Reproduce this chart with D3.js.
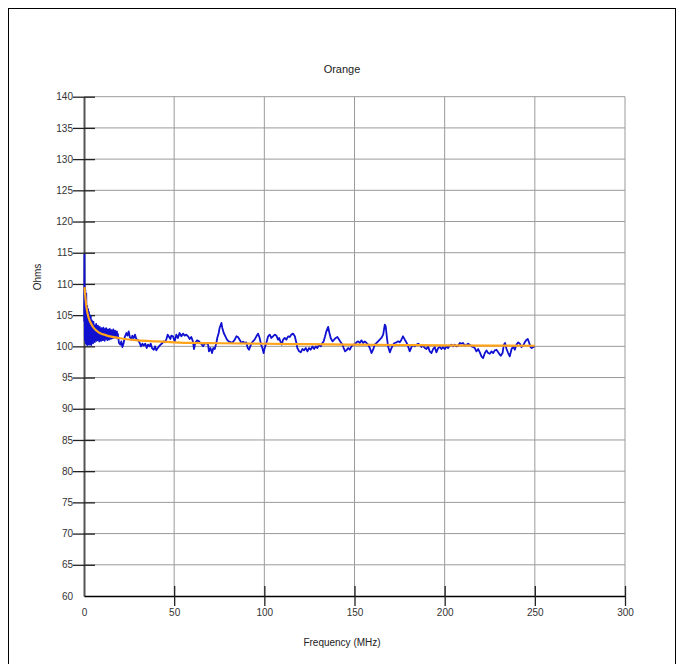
<!DOCTYPE html>
<html><head><meta charset="utf-8">
<script src="https://cdn.jsdelivr.net/npm/d3@7"></script>
<style>body{margin:0;background:#fff}svg{display:block}text{font-family:"Liberation Sans",Arial,sans-serif}</style>
</head><body><div id="chart"></div>
<script>
const title = "Orange";
const xLabel = "Frequency (MHz)";
const yLabel = "Ohms";
const xTicks = [0, 50, 100, 150, 200, 250, 300];
const yTicks = [60, 65, 70, 75, 80, 85, 90, 95, 100, 105, 110, 115, 120, 125, 130, 135, 140];

const measFreq = [0.1,0.25,0.5,0.75,1,1.25,1.5,1.75,2,2.25,2.5,2.75,3,3.25,3.5,3.75,4,4.25,4.5,4.75,
5,5.25,5.5,5.75,6,6.25,6.5,6.75,7,7.25,7.5,7.75,8,8.25,8.5,8.75,9,9.25,9.5,9.75,10,10.25,10.5,10.75,11,11.25,11.5,11.75,12,12.25,12.5,12.75,13,13.25,13.5,13.75,14,14.25,14.5,14.75,15,15.25,15.5,15.75,16,16.25,16.5,16.75,17,17.25,17.5,17.75,18,18.25,18.5,18.75,19,
19.4,20.2,20.7,21.3,22.0,22.6,23.5,24.1,24.8,25.4,26.3,26.8,27.6,28.3,29.0,30.0,30.9,31.6,32.4,33.1,34.0,34.8,35.5,36.4,37.0,37.7,38.7,39.4,40.1,40.9,41.6,42.5,43.5,44.2,45.0,45.7,46.4,47.2,47.9,
48.4,49.3,50.3,51.2,52.1,53.0,54.0,54.9,55.8,56.7,57.7,58.6,59.5,60.4,61.0,61.7,62.7,63.8,64.5,65.4,66.0,66.9,67.8,68.8,69.3,70.1,71.0,71.7,72.5,73.4,73.9,74.7,75.2,76.2,76.7,77.5,78.4,79.3,80.2,81.2,81.9,82.6,83.6,84.5,85.4,86.3,87.3,88.2,89.1,90.0,90.8,91.5,92.2,93.0,93.7,94.6,95.6,96.5,97.4,98.2,98.9,99.6,
100.2,101.1,102.1,103.0,103.9,104.8,105.8,106.7,107.6,108.2,108.9,109.6,110.4,111.3,112.2,113.2,114.1,115.0,115.9,116.9,117.8,118.3,119.3,120.2,121.1,122.0,123.0,123.9,124.8,125.7,126.7,127.6,128.5,129.4,130.4,131.3,132.2,132.9,133.7,134.4,135.4,136.1,136.8,137.8,138.7,139.6,140.5,141.5,142.4,143.3,144.0,144.8,145.5,146.5,147.4,148.3,149.2,
150.1,151.1,152.0,152.9,153.8,154.8,155.7,156.6,157.5,158.5,159.4,160.3,161.2,162.2,163.1,164.0,164.9,165.9,166.8,167.3,167.9,168.6,169.6,170.5,171.4,172.3,173.3,174.2,175.1,176.0,176.9,177.9,178.8,179.7,180.6,181.6,182.5,183.4,184.3,185.3,186.2,187.1,188.0,189.0,189.9,190.8,191.7,192.7,193.6,194.5,195.4,196.4,197.3,198.2,199.1,
200.1,201.0,201.9,202.8,203.8,204.7,205.6,206.5,207.5,208.4,209.3,210.2,211.2,212.1,213.0,213.9,214.9,215.8,216.7,217.6,218.6,219.5,220.4,221.3,222.3,223.2,224.1,225.0,226.0,226.9,227.8,228.7,229.7,230.6,231.1,232.1,232.8,233.5,234.3,235.2,236.1,237.1,238.0,238.9,239.8,240.8,241.7,242.6,243.5,244.4,245.4,246.1,246.9,247.6,248.3,249.1,250.0];

const measOhms = [104,114.7,101,109,100.5,108.5,100.3,106.5,100.2,106,100.5,105.5,100.3,105,100.6,104.8,100.2,104.2,100.8,104,
100.5,103.9,101.2,103.4,100.7,102.8,101.5,103.6,100.9,102.6,101.0,103.3,101.4,102.4,100.8,103.1,101.3,102.2,100.9,102.9,101.6,102.4,101.0,103.0,101.3,102.2,100.9,102.8,101.6,102.9,101.2,102.4,101.0,102.7,101.5,102.3,101.1,102.8,101.6,102.5,101.2,102.6,101.7,102.2,101.3,102.7,101.5,102.3,101.4,102.5,101.8,102.1,101.3,102.4,101.6,102.0,101.4,
100.54,100.27,100.8,99.89,100.54,101.5,102.14,101.71,102.41,101.5,101.07,101.71,101.34,101.87,101.18,100.96,100.54,100,100.43,100.11,100.43,99.73,100.27,100,100.43,99.73,99.46,100,99.36,99.73,100,100.27,100.54,100.8,100.64,101.18,101.87,101.5,101.18,
101.71,101.61,100.8,101.88,101.34,102.14,101.61,102.04,101.71,101.88,101.61,101.18,101.5,100.8,99.57,100.54,100.96,100.8,100.54,100.27,100,100.43,100.54,100.27,99.2,99.73,98.93,99.73,99.57,100.54,101.34,102.14,102.95,103.75,102.95,102.14,101.61,101.07,100.8,100.7,100.54,100.7,101.07,101.61,101.5,101.07,100.54,100.75,100.54,100.64,99.73,99.46,100,100.54,100.8,101.07,101.61,102.04,101.34,100.27,99.73,98.93,
99.73,100.54,101.61,101.88,101.34,101.61,101.88,101.71,101.07,101.34,100.8,100.27,101.07,101.34,101.07,101.61,101.5,101.88,102.04,101.61,100.54,99.73,99.2,99.04,99.57,99.36,99.73,99.2,99.73,99.46,100,99.57,100,99.73,100.27,100,100.54,100.8,101.61,102.41,103.11,102.14,101.34,100.8,101.07,101.34,101.5,101.07,100.64,100.27,99.73,99.2,99.36,99.73,99.46,100,100.27,
100.27,100.64,100.8,100.54,100.96,100.54,100.8,100.54,100.27,99.73,98.93,99.46,100.27,100.54,100.8,101.07,101.34,101.88,103.48,103.22,101.61,100,99.04,99.73,100.27,100.54,100.64,100.8,100.64,101.07,101.61,101.07,100.64,100,99.2,99.89,100.27,100,100.27,100.43,100.27,99.89,100.11,99.73,99.57,100,99.2,98.93,99.57,99.89,99.04,99.73,99.89,99.57,99.89,
99.57,100,99.73,100.11,100.27,100,100.27,100,100.11,100.54,100.43,100.54,100.11,100.27,100.43,100.27,100,99.89,99.73,99.2,99.57,99.04,98.39,98.12,98.93,99.36,98.93,98.82,99.2,98.93,99.36,99.46,99.04,98.66,98.5,98.93,100.27,100.54,99.57,98.93,98.39,99.57,100,99.46,100.27,100.64,100.43,99.89,100.11,100.64,101.07,101.18,100.54,99.89,99.73,99.89,100];

const fitFreq = [0.3,0.8,1.3,2,3,4,5,7,9,12,15,20,25,30,40,50,60,75,100,125,150,175,200,225,250];
const fitOhms = [109.5,107.8,106.4,105.2,104.2,103.6,103.1,102.5,102.1,101.8,101.55,101.3,101.1,100.95,100.8,100.65,100.55,100.5,100.42,100.35,100.28,100.22,100.15,100.12,100.1];

const W = 685, H = 664;
const svg = d3.select("#chart").append("svg").attr("width", W).attr("height", H);
svg.append("rect").attr("x", 8.5).attr("y", 8.5).attr("width", 667).attr("height", 670)
  .attr("fill", "none").attr("stroke", "#000").attr("stroke-width", 1);

const x = d3.scaleLinear().domain([0, 300]).range([84, 625]);
const y = d3.scaleLinear().domain([60, 140]).range([596, 96.7]);

// grid
svg.append("g").selectAll("line").data(yTicks.filter(d => d > 60)).join("line")
  .attr("x1", x(0)).attr("x2", x(300)).attr("y1", d => y(d)).attr("y2", d => y(d))
  .attr("stroke", "#9a9a9a").attr("stroke-width", 1);
svg.append("g").selectAll("line").data(xTicks.filter(d => d > 0)).join("line")
  .attr("y1", y(140)).attr("y2", y(60)).attr("x1", d => x(d)).attr("x2", d => x(d))
  .attr("stroke", "#9a9a9a").attr("stroke-width", 1);

// y axis
const ya = svg.append("g").attr("transform", `translate(${x(0)},0)`)
  .call(d3.axisLeft(y).tickValues(yTicks).tickSize(11).tickSizeOuter(0).tickPadding(0));
ya.select(".domain").attr("stroke", "#555").attr("stroke-width", 2);
ya.selectAll(".tick line").attr("x1", 11).attr("x2", -11).attr("stroke", "#222").attr("stroke-width", 1.3)
  .filter(d => d === 60).remove();
ya.selectAll(".tick text").attr("font-size", 10).attr("fill", "#333");

// x axis
const xa = svg.append("g").attr("transform", `translate(0,${y(60)})`)
  .call(d3.axisBottom(x).tickValues(xTicks).tickSize(10).tickSizeOuter(0).tickPadding(3));
xa.select(".domain").attr("stroke", "#000").attr("stroke-width", 1.5);
xa.selectAll(".tick line").attr("y1", -10).attr("y2", 10).attr("stroke", "#222").attr("stroke-width", 1.3)
  .filter(d => d === 0).remove();
xa.selectAll(".tick text").attr("font-size", 10).attr("fill", "#333");

// data
const meas = measFreq.map((f, i) => [f, measOhms[i]]);
const fit = fitFreq.map((f, i) => [f, fitOhms[i]]);
svg.append("path").datum(meas)
  .attr("d", d3.line().x(d => x(d[0])).y(d => y(d[1])))
  .attr("fill", "none").attr("stroke", "#1010d0").attr("stroke-width", 1.8).attr("stroke-linejoin", "round");
svg.append("path").datum(fit)
  .attr("d", d3.line().curve(d3.curveMonotoneX).x(d => x(d[0])).y(d => y(d[1])))
  .attr("fill", "none").attr("stroke", "#ffa31a").attr("stroke-width", 2.2);

// labels
svg.append("text").attr("x", 342).attr("y", 73).attr("text-anchor", "middle")
  .attr("font-size", 11).attr("fill", "#222").text(title);
svg.append("text").attr("x", 342).attr("y", 646).attr("text-anchor", "middle")
  .attr("font-size", 10).attr("fill", "#222").text(xLabel);
svg.append("text").attr("transform", "translate(41,277) rotate(-90)").attr("text-anchor", "middle")
  .attr("font-size", 10).attr("fill", "#222").text(yLabel);
</script></body></html>
